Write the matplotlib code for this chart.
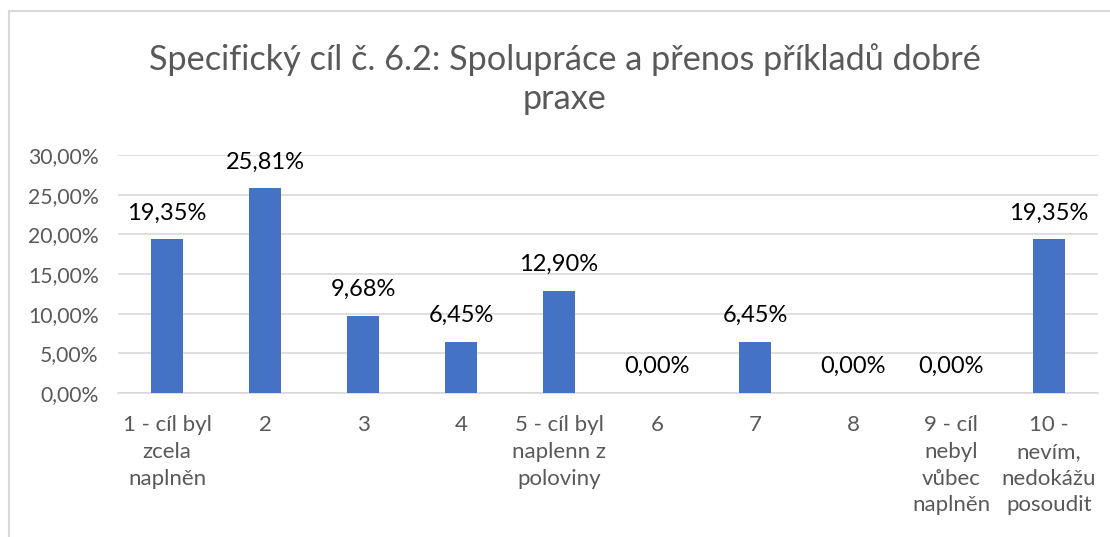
import matplotlib
matplotlib.use("Agg")
import matplotlib.pyplot as plt
from matplotlib.patches import Rectangle
from matplotlib.ticker import FuncFormatter

plt.rcParams["font.family"] = ["Lato", "DejaVu Sans"]

kategorie = [
    "1 - cíl byl\nzcela\nnaplněn",
    "2",
    "3",
    "4",
    "5 - cíl byl\nnaplenn z\npoloviny",
    "6",
    "7",
    "8",
    "9 - cíl\nnebyl\nvůbec\nnaplněn",
    "10 -\nnevím,\nnedokážu\nposoudit",
]
podily = [19.35, 25.81, 9.68, 6.45, 12.90, 0.00, 6.45, 0.00, 0.00, 19.35]
nazev = "Specifický cíl č. 6.2: Spolupráce a přenos příkladů dobré\npraxe"

SEDA = "#595959"
MODRA = "#4472C4"
MRIZKA = "#D9D9D9"

W, H = 1110, 537
fig = plt.figure(figsize=(W / 100, H / 100), dpi=100)

# rámeček grafu (jen horní a levá hrana jsou vidět)
fig.patches.append(Rectangle((9 / W, -0.1), 1.2, (H - 11) / H + 0.1,
                             transform=fig.transFigure, fill=False,
                             edgecolor=MRIZKA, linewidth=1.5))

ax = fig.add_axes([118 / W, 144 / H, 980 / W, 238 / H])
x = range(len(kategorie))
ax.bar(x, podily, width=0.32, color=MODRA, zorder=3)

ax.set_xlim(-0.5, len(kategorie) - 0.5)
ax.set_ylim(0, 30)
ax.set_yticks([0, 5, 10, 15, 20, 25, 30])
ax.yaxis.set_major_formatter(FuncFormatter(lambda v, _: f"{v:.2f}%".replace(".", ",")))
ax.grid(axis="y", color=MRIZKA, linewidth=1.2, zorder=0)
for s in ["top", "right", "left"]:
    ax.spines[s].set_visible(False)
ax.spines["bottom"].set_color(MRIZKA)
ax.spines["bottom"].set_linewidth(1.2)
ax.tick_params(axis="both", length=0, colors=SEDA)
ax.tick_params(axis="y", labelsize=15.2, pad=14)
ax.tick_params(axis="x", labelsize=16, pad=16)
ax.set_xticks(list(x))
ax.set_xticklabels(kategorie, linespacing=1.42, va="top")

for xi, v in zip(x, podily):
    ax.annotate(f"{v:.2f}%".replace(".", ","), (xi, v), xytext=(0, 19),
                textcoords="offset points", ha="center", va="center",
                fontsize=17, color="black")

fig.text(565 / W, 1 - 79 / H, nazev, ha="center", va="center",
         fontsize=24.7, color=SEDA, linespacing=1.25)

fig.savefig("out.png", dpi=100)
